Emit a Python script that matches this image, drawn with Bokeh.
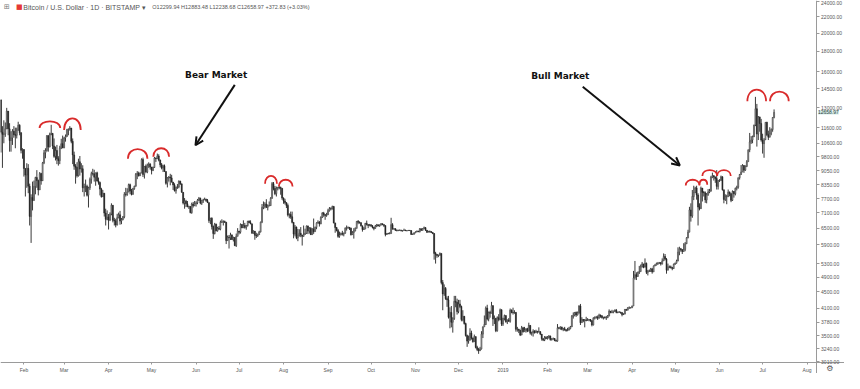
import math
import pandas as pd
from bokeh.plotting import figure
from bokeh.models import (Range1d, FixedTicker, PrintfTickFormatter, ColumnDataSource,
                          Label, Arrow, OpenHead)
from bokeh.embed import file_html
from bokeh.resources import INLINE

# ---------------- data (BTC/USD daily, Bitstamp) ----------------
start_date = "2018-01-16"
first_open = 13600

close = [
    11300, 11160, 11180, 11520, 12760, 11520, 10770, 10930, 11360, 11140, 11100, 11430, 11760, 11260, 10180, 10220,
    9170, 8830, 9175, 8280, 6955, 7750, 7620, 8265, 8700, 8550, 8100, 8900, 8540, 9470, 10030, 10170, 11080, 10380, 11150, 11220, 10440, 9830, 10170, 9690, 9590, 10310, 10570, 10330,
    10930, 11030, 11470, 11510, 11570, 10720, 9910, 9290, 9230, 8790, 9530, 9140, 9150, 8200, 8260, 8270, 7860, 8200, 8600, 8900, 8890, 8720, 8940, 8530, 8450, 8140, 7790, 7950, 7090, 6840, 6930,
    6810, 7050, 7420, 6800, 6780, 6620, 6900, 7020, 6770, 6830, 6940, 7900, 7890, 8000, 8350, 8050, 7900, 8160, 8280, 8860, 8920, 8790, 8930, 9650, 8860, 9280, 8980, 9340, 9400, 9240,
    9070, 9220, 9740, 9700, 9850, 9620, 9360, 9190, 9310, 9010, 8420, 8680, 8720, 8680, 8480, 8340, 8060, 8240, 8240, 8520, 8390, 7990, 7510, 7590, 7480, 7360, 7360, 7110, 7470, 7400, 7490,
    7520, 7640, 7720, 7510, 7630, 7650, 7680, 7620, 7530, 6790, 6880, 6560, 6300, 6650, 6400, 6500, 6460, 6720, 6740, 6750, 6720, 6050, 6170, 6150, 6250, 6090, 6160, 5880, 6200, 6390,
    6350, 6640, 6510, 6600, 6530, 6600, 6760, 6710, 6660, 6310, 6390, 6240, 6220, 6260, 6360, 6730, 7320, 7380, 7470, 7330, 7400, 7400, 7720, 8400, 8170, 7930, 8180, 8230, 8210, 8180, 7730,
    7600, 7530, 7410, 7010, 7030, 6940, 6720, 6280, 6540, 6150, 6240, 6310, 6250, 6200, 6270, 6310, 6580, 6390, 6490, 6260, 6470, 6370, 6530, 6700, 6730, 6660, 6910, 7090, 7030, 6990, 7020,
    7190, 7270, 7260, 7360, 6700, 6520, 6410, 6200, 6250, 6300, 6280, 6310, 6500, 6500, 6530, 6500, 6260, 6340, 6400, 6490, 6760, 6720, 6710, 6590, 6450, 6470, 6680, 6640, 6600, 6630,
    6590, 6530, 6490, 6580, 6630, 6580, 6620, 6670, 6640, 6600, 6270, 6300, 6290, 6300, 6630, 6480, 6480, 6420, 6410, 6420, 6420, 6400, 6410, 6430, 6410, 6410, 6420, 6410, 6270, 6280, 6320,
    6360, 6390, 6370, 6480, 6420, 6480, 6520, 6420, 6350, 6380, 6370, 6340, 6300, 5620, 5590, 5550, 5560, 5620, 4750, 4450, 4590, 4330, 4300, 3890, 4000, 3780, 3860, 4260, 4240, 4020,
    4200, 4140, 3840, 3910, 3750, 3500, 3390, 3410, 3550, 3450, 3380, 3480, 3270, 3230, 3210, 3240, 3530, 3680, 3730, 4100, 3850, 4000, 3980, 4160, 3850, 3870, 3600, 3880, 3840, 4060, 3740,
    3860, 3930, 3790, 3830, 3800, 4050, 4000, 3990, 4000, 3630, 3630, 3610, 3510, 3660, 3580, 3610, 3640, 3590, 3710, 3550, 3560, 3590, 3560, 3590, 3580, 3580, 3530, 3440, 3410, 3460, 3440,
    3460, 3490, 3420, 3430, 3440, 3400, 3390, 3660, 3650, 3680, 3630, 3640, 3620, 3600, 3610, 3640, 3680, 3910, 3940, 4000, 3940, 3990, 4150, 3770, 3840, 3820, 3830, 3820,
    3830, 3840, 3810, 3720, 3870, 3880, 3890, 3870, 3940, 3920, 3880, 3890, 3880, 3880, 3920, 4030, 4000, 4000, 4030, 4050, 4000, 4000, 4010, 4000, 3950, 3960, 4070, 4050, 4110, 4110, 4110,
    4150, 4880, 4970, 4920, 5040, 5060, 5200, 5290, 5190, 5310, 5040, 5070, 5080, 5140, 5050, 5230, 5250, 5300, 5300, 5330, 5290, 5380, 5520, 5440, 5100, 5200, 5200, 5180, 5150, 5280,
    5310, 5380, 5660, 5770, 5740, 5680, 5750, 5940, 6150, 6350, 7220, 6970, 7800, 7980, 8190, 7870, 7340, 7270, 8190, 7990, 7970, 7650, 7880, 8000, 8050, 8720, 8790, 8730, 8650, 8270, 8560,
    8560, 8740, 8110, 7670, 7790, 7810, 8000, 7930, 7630, 8030, 7920, 8180, 8230, 8690, 8860, 8980, 9330, 9080, 9280, 9530, 10210, 10680, 10800, 11000, 11770, 12930, 11180, 12340, 11880, 10800,
    10580, 10810, 11960, 11140, 10980, 11230, 11470, 12300, 12658.97,
]

high = [
    13650, 11700, 12100, 11950, 13000, 12700, 11900, 11360, 11500, 11700, 11600, 11600, 12000, 11830, 11300, 10300,
    10250, 9100, 9450, 9400, 8400, 7900, 8500, 8550, 8740, 9080, 8600, 8980, 8940, 9520, 10200, 10300, 11100, 11080, 11270, 11790, 11250, 10900, 10400, 10500, 9840, 10450, 10880, 11080,
    11000, 11150, 11520, 11540, 11700, 11580, 10900, 10100, 9400, 9500, 9700, 9850, 9450, 9340, 8400, 8600, 8350, 8250, 8700, 9000, 9150, 9100, 8950, 9000, 8700, 8500, 8200, 8100, 7960, 7270, 7200,
    7050, 7120, 7500, 7420, 6900, 6860, 7060, 7110, 7180, 6890, 6970, 8000, 8200, 8180, 8400, 8400, 8150, 8200, 8300, 8930, 9030, 9000, 8960, 9720, 9760, 9300, 9380, 9430, 9500, 9450,
    9250, 9270, 9800, 9760, 9990, 9950, 9650, 9460, 9370, 9380, 9020, 8720, 8780, 8890, 8840, 8480, 8420, 8260, 8380, 8560, 8540, 8400, 8000, 7730, 7650, 7600, 7400, 7380, 7530, 7560, 7600,
    7590, 7690, 7780, 7750, 7650, 7700, 7750, 7700, 7690, 7520, 6900, 6920, 6600, 6700, 6670, 6550, 6580, 6790, 6840, 6800, 6790, 6740, 6230, 6250, 6330, 6270, 6190, 6170, 6300, 6500,
    6400, 6680, 6650, 6800, 6700, 6620, 6780, 6800, 6800, 6680, 6420, 6380, 6330, 6300, 6400, 6750, 7470, 7580, 7550, 7680, 7450, 7580, 7770, 8480, 8480, 8290, 8260, 8240, 8300, 8260, 8170,
    7760, 7700, 7540, 7490, 7080, 7150, 7150, 6720, 6620, 6560, 6470, 6460, 6540, 6250, 6600, 6480, 6600, 6600, 6540, 6540, 6500, 6870, 6560, 6720, 6800, 6770, 6960, 7130, 7140, 7040, 7100,
    7270, 7340, 7330, 7400, 7390, 6700, 6540, 6470, 6370, 6340, 6400, 6340, 6530, 6600, 6560, 6530, 6520, 6390, 6500, 6530, 6770, 6810, 6760, 6720, 6590, 6540, 6700, 6790, 6640, 6660,
    6640, 6610, 6540, 6620, 6660, 6630, 6640, 6690, 6670, 6640, 6590, 6320, 6330, 6350, 6900, 6690, 6500, 6490, 6450, 6440, 6450, 6440, 6420, 6480, 6440, 6430, 6430, 6430, 6420, 6300, 6350,
    6380, 6410, 6400, 6500, 6480, 6500, 6560, 6530, 6430, 6400, 6410, 6390, 6350, 6320, 5670, 5600, 5580, 5650, 5620, 4820, 4700, 4630, 4390, 4400, 4120, 4150, 3890, 4400, 4400, 4330,
    4300, 4300, 4160, 4050, 3920, 3770, 3520, 3500, 3650, 3600, 3460, 3520, 3480, 3300, 3260, 3280, 3590, 3690, 3930, 4140, 4180, 4020, 4040, 4250, 4150, 3930, 3860, 3910, 3960, 4090, 4070,
    3880, 3950, 3930, 3840, 3870, 4090, 4070, 4110, 4050, 4010, 3680, 3640, 3620, 3700, 3680, 3680, 3650, 3660, 3770, 3720, 3580, 3630, 3610, 3620, 3590, 3670, 3590, 3530, 3440, 3490, 3490,
    3490, 3510, 3500, 3450, 3460, 3450, 3420, 3740, 3680, 3690, 3680, 3660, 3680, 3630, 3660, 3680, 3700, 3940, 4000, 4010, 4020, 4020, 4170, 4200, 3890, 3850, 3850, 3900,
    3870, 3850, 3850, 3830, 3890, 3910, 3920, 3930, 3970, 3950, 3940, 3900, 3910, 3920, 3940, 4070, 4030, 4060, 4040, 4070, 4080, 4020, 4030, 4010, 4000, 3980, 4080, 4080, 4120, 4140, 4120,
    4160, 5080, 5380, 5040, 5060, 5230, 5270, 5350, 5290, 5460, 5330, 5110, 5120, 5170, 5170, 5240, 5290, 5330, 5350, 5350, 5340, 5460, 5620, 5600, 5470, 5300, 5240, 5240, 5200, 5300,
    5330, 5420, 5820, 5840, 5800, 5760, 5960, 6000, 6170, 6440, 7350, 7500, 8100, 8300, 8250, 8300, 7950, 7500, 8260, 8180, 8050, 8030, 7960, 8140, 8150, 8790, 8950, 8820, 8750, 9080, 8580,
    8620, 8800, 8760, 8110, 7900, 7880, 8120, 8030, 7950, 8080, 8050, 8210, 8300, 8700, 8880, 9350, 9400, 9340, 9330, 9620, 10220, 11250, 11050, 11080, 11800, 13850, 13300, 12400, 12350, 12200,
    11200, 10920, 11980, 12000, 11400, 11630, 11550, 12320, 12883.48,
]

low = [
    10050, 9200, 10600, 11000, 11500, 11100, 10100, 10100, 10500, 10950, 10300, 10900, 11400, 11100, 10000, 9700,
    8750, 7800, 8200, 7950, 6600, 5970, 7200, 7700, 7900, 8200, 7850, 8100, 8350, 8530, 9400, 9720, 10100, 10100, 10350, 11100, 10250, 9750, 9600, 9400, 9320, 9400, 10250, 10300,
    10300, 10700, 11000, 11100, 11400, 10600, 9400, 9100, 8400, 8700, 8750, 8800, 8950, 8000, 7800, 8000, 7800, 7320, 8100, 8400, 8800, 8500, 8300, 8500, 8350, 7850, 7750, 7780, 6950, 6600, 6800,
    6450, 6770, 7000, 6720, 6600, 6530, 6600, 6880, 6630, 6650, 6800, 6880, 7800, 7830, 8000, 7900, 7850, 7880, 8110, 8250, 8620, 8750, 8790, 8920, 8730, 8650, 8950, 8920, 9200, 9110,
    8860, 9030, 9200, 9520, 9700, 9550, 9230, 9120, 8980, 9000, 8350, 8220, 8500, 8320, 8450, 8100, 8030, 7930, 8150, 8180, 8340, 7980, 7450, 7270, 7340, 7330, 7260, 7080, 7060, 7320, 7380,
    7360, 7460, 7600, 7460, 7430, 7520, 7640, 7560, 7520, 6700, 6650, 6450, 6110, 6270, 6380, 6370, 6440, 6420, 6700, 6600, 6700, 5930, 6050, 5780, 6070, 6070, 6020, 5860, 5830, 6200,
    6270, 6300, 6500, 6510, 6480, 6440, 6560, 6690, 6650, 6300, 6300, 6080, 6140, 6180, 6250, 6340, 6690, 7250, 7280, 7300, 7200, 7370, 7390, 7700, 8080, 7860, 7800, 8080, 8130, 7880, 7650,
    7480, 7450, 7300, 6950, 6880, 6860, 6680, 6130, 6200, 6100, 6030, 6190, 6170, 5880, 6190, 6250, 6290, 6280, 6300, 6250, 6270, 6290, 6370, 6460, 6670, 6560, 6650, 6890, 6940, 6820, 6940,
    7020, 7150, 7200, 7240, 6680, 6330, 6380, 6150, 6150, 6240, 6230, 6200, 6300, 6410, 6480, 6430, 6230, 6250, 6120, 6380, 6490, 6650, 6670, 6560, 6370, 6430, 6460, 6600, 6500, 6570,
    6540, 6490, 6420, 6480, 6540, 6570, 6550, 6600, 6610, 6540, 6200, 6250, 6280, 6280, 6300, 6440, 6430, 6400, 6380, 6390, 6400, 6380, 6370, 6410, 6390, 6380, 6400, 6400, 6250, 6250, 6260,
    6320, 6350, 6350, 6340, 6400, 6410, 6460, 6400, 6320, 6350, 6330, 6320, 6280, 5420, 5300, 5480, 5500, 5550, 4700, 4050, 4400, 4300, 4130, 3860, 3650, 3670, 3560, 3830, 4120, 3950,
    3980, 4100, 3800, 3800, 3730, 3480, 3280, 3340, 3400, 3420, 3360, 3380, 3250, 3200, 3150, 3200, 3230, 3450, 3680, 3720, 3820, 3800, 3880, 3990, 3700, 3740, 3570, 3580, 3800, 3820, 3700,
    3700, 3820, 3770, 3740, 3790, 3770, 3980, 3950, 3970, 3580, 3580, 3550, 3490, 3510, 3560, 3590, 3560, 3570, 3590, 3520, 3500, 3480, 3540, 3550, 3540, 3560, 3510, 3400, 3390, 3390, 3430,
    3420, 3440, 3400, 3400, 3420, 3390, 3380, 3380, 3630, 3620, 3610, 3590, 3600, 3580, 3590, 3610, 3630, 3680, 3860, 3910, 3900, 3930, 3970, 3720, 3770, 3780, 3670, 3800,
    3810, 3800, 3790, 3690, 3710, 3840, 3860, 3830, 3860, 3880, 3860, 3840, 3860, 3830, 3870, 3910, 3980, 3980, 3980, 4010, 3980, 3980, 3990, 3970, 3910, 3940, 3960, 4040, 4050, 4080, 4090,
    4100, 4150, 4830, 4820, 4910, 4990, 5060, 5180, 5160, 5190, 4990, 4950, 5050, 5050, 5000, 5050, 5220, 5250, 5260, 5300, 5240, 5270, 5380, 5400, 5000, 5120, 5160, 5150, 5100, 5140,
    5260, 5300, 5370, 5560, 5680, 5600, 5700, 5690, 5930, 6130, 6350, 6750, 6900, 7640, 7950, 7660, 6600, 7200, 7270, 7580, 7800, 7520, 7500, 7830, 7950, 8020, 8670, 8550, 8440, 8120, 8120,
    8480, 8540, 8070, 7500, 7600, 7460, 7770, 7810, 7550, 7600, 7750, 7850, 8080, 8160, 8600, 8830, 8980, 8940, 9040, 9240, 9530, 10070, 10560, 10600, 10990, 11700, 10400, 10800, 11330, 10700,
    9990, 9750, 10820, 11050, 10800, 10960, 11100, 11330, 12238.68,
]

month_tick_dates = ["2018-02-01", "2018-03-01", "2018-04-01", "2018-05-01", "2018-06-01", "2018-07-01",
                    "2018-08-01", "2018-09-01", "2018-10-01", "2018-11-01", "2018-12-01", "2019-01-01",
                    "2019-02-01", "2019-03-01", "2019-04-01", "2019-05-01", "2019-06-01", "2019-07-01",
                    "2019-08-01"]
month_tick_labels = ["Feb", "Mar", "Apr", "May", "Jun", "Jul", "Aug", "Sep", "Oct", "Nov", "Dec", "2019",
                     "Feb", "Mar", "Apr", "May", "Jun", "Jul", "Aug"]
price_ticks = [3010, 3240, 3500, 3780, 4100, 4500, 4900, 5300, 5900, 6500, 7100, 7700, 8350, 9050,
               9800, 10600, 11600, 13000, 14500, 16000, 18000, 20000, 22000, 24000]
last_price = 12658.97

# annotation anchors (day index, price)
arc_left = [26.9, 44.0, 88.5, 106.2, 184.1, 193.7, 477.4, 487.0, 489.0, 499.3, 520.4, 536.2]
arc_right = [41.3, 55.6, 102.1, 117.2, 192.4, 203.3, 487.0, 492.4, 499.3, 508.8, 533.4, 549.2]
arc_base = [11570, 11450, 9700, 9810, 8400, 8260, 8310, 8350, 8780, 8780, 13510, 13510]
arc_top = [12030, 12230, 10250, 10300, 8780, 8590, 8590, 8590, 9080, 9080, 14440, 14280]

# ---------------- build ----------------
n = min(len(close), len(high), len(low))
close, high, low = close[:n], high[:n], low[:n]
opens = [first_open] + close[:-1]
xs = list(range(n))
hi = [max(h, o, c) for h, o, c in zip(high, opens, close)]
lo = [min(l, o, c) for l, o, c in zip(low, opens, close)]
up = [c >= o for o, c in zip(opens, close)]
src = ColumnDataSource(dict(
    x=xs, top=[max(o, c) for o, c in zip(opens, close)],
    bottom=[min(o, c) for o, c in zip(opens, close)],
    high=hi, low=lo,
    fill=["#a8a8a8" if u else "#262626" for u in up],
    line=["#3a3a3a" if u else "#262626" for u in up],
))

start = pd.Timestamp(start_date)
tick_days = [int((pd.Timestamp(d) - start).days) for d in month_tick_dates]

# the frame covers the whole canvas; both axes sit at fixed positions inside it
x_lo, x_hi = -0.34, 588.1          # left edge .. right edge of the canvas
y_lo, y_hi = 2813, 24133           # bottom edge .. top edge of the canvas
axis_day = 568.3                   # where the price scale stands
axis_price = 3005                  # where the time scale stands

p = figure(width=844, height=373, x_range=Range1d(x_lo, x_hi), y_range=Range1d(y_lo, y_hi),
           y_axis_type="log", y_axis_location="right", output_backend="svg",
           toolbar_location=None, min_border=0, min_border_left=0, min_border_top=0,
           min_border_right=0, min_border_bottom=0)
p.background_fill_color = "white"
p.border_fill_color = "white"
p.outline_line_color = None
p.xgrid.visible = False
p.ygrid.visible = False

font = "Liberation Sans"
ya = p.yaxis[0]
ya.fixed_location = axis_day
ya.ticker = FixedTicker(ticks=price_ticks)
ya.formatter = PrintfTickFormatter(format="%.2f")
ya.major_label_text_font_size = "5px"
ya.major_label_text_font = font
ya.major_label_text_color = "#555555"
ya.major_tick_out = 3
ya.major_tick_in = 0
ya.minor_tick_out = 0
ya.minor_tick_in = 0
ya.minor_tick_line_color = None
ya.axis_line_color = "#9a9a9a"
ya.major_tick_line_color = "#9a9a9a"
ya.major_label_standoff = 2

xa = p.xaxis[0]
xa.fixed_location = axis_price
xa.ticker = FixedTicker(ticks=tick_days)
xa.major_label_overrides = {d: l for d, l in zip(tick_days, month_tick_labels)}
xa.major_label_text_font_size = "5px"
xa.major_label_text_font = font
xa.major_label_text_color = "#555555"
xa.major_tick_out = 2
xa.major_tick_in = 0
xa.minor_tick_out = 0
xa.minor_tick_in = 0
xa.minor_tick_line_color = None
xa.axis_line_color = "#9a9a9a"
xa.major_tick_line_color = "#9a9a9a"
xa.major_label_standoff = 3

p.segment(x0="x", y0="low", x1="x", y1="high", source=src, line_color="#3a3a3a", line_width=1)
p.vbar(x="x", width=0.72, top="top", bottom="bottom", source=src,
       fill_color="fill", line_color="line", line_width=0.5)

# red humps over the peaks
cy = [math.exp(math.log(b) + (math.log(t) - math.log(b)) / 0.75) for b, t in zip(arc_base, arc_top)]
p.bezier(x0=arc_left, y0=arc_base, x1=arc_right, y1=arc_base,
         cx0=arc_left, cy0=cy, cx1=arc_right, cy1=cy, line_color="#d92b2b", line_width=1.8)

# labels and arrows
p.add_layout(Label(x=150, y=15680, text="Bear Market", text_font="DejaVu Sans", text_font_style="bold",
                   text_font_size="9px", text_align="center", text_baseline="middle", text_color="#111111"))
p.add_layout(Label(x=389.9, y=15600, text="Bull Market", text_font="DejaVu Sans", text_font_style="bold",
                   text_font_size="9px", text_align="center", text_baseline="middle", text_color="#111111"))
p.add_layout(Arrow(end=OpenHead(size=8, line_width=2, line_color="#111111"),
                   x_start=163.0, y_start=14840, x_end=135.6, y_end=10480,
                   line_width=2, line_color="#111111"))
p.add_layout(Arrow(end=OpenHead(size=8, line_width=2, line_color="#111111"),
                   x_start=405.6, y_start=14680, x_end=473.3, y_end=9330,
                   line_width=2, line_color="#111111"))

# header
p.add_layout(Label(x=2.0, y=23200, text="⊞", text_font="DejaVu Sans", text_font_size="7px",
                   text_baseline="middle", text_color="#777777"))
p.add_layout(Label(x=10.5, y=23200, text="■", text_font="DejaVu Sans", text_font_size="7px",
                   text_baseline="middle", text_color="#e53935"))
p.add_layout(Label(x=15.6, y=23200, text="Bitcoin / U.S. Dollar · 1D · BITSTAMP ▾", text_font=font,
                   text_font_size="7px", text_baseline="middle", text_color="#555555"))
p.add_layout(Label(x=105.5, y=23200,
                   text="O12299.94    H12883.48    L12238.68    C12658.97    +372.83 (+3.03%)",
                   text_font=font, text_font_size="5.5px", text_baseline="middle", text_color="#555555"))

# last price tag on the price scale, and the settings gear
p.add_layout(Label(x=569.6, y=last_price, text="%.2f" % last_price, text_font=font, text_font_size="5px",
                   text_baseline="middle", text_color="#2f3f3c", background_fill_color="#d3ebe7"))
p.add_layout(Label(x=577.9, y=2897, text="⚙", text_font="DejaVu Sans", text_font_size="8px",
                   text_align="center", text_baseline="middle", text_color="#555555"))

open("out.html", "w").write(file_html(p, INLINE))
